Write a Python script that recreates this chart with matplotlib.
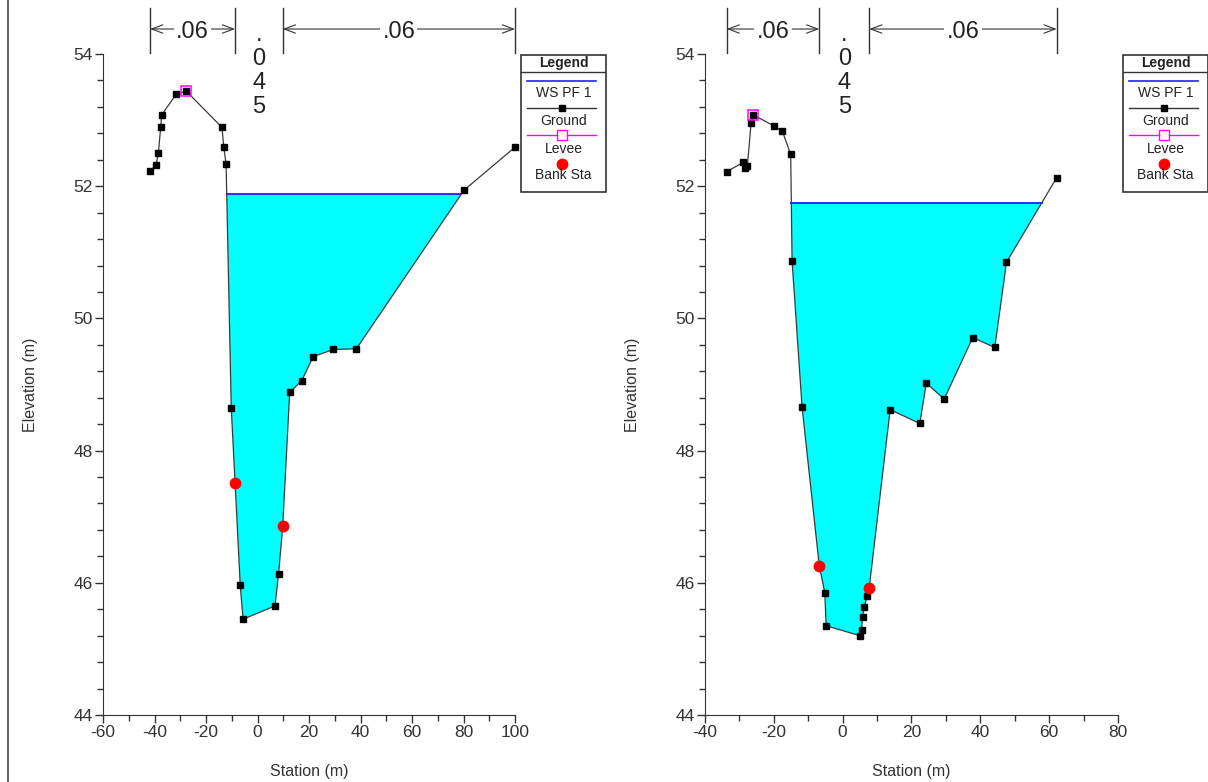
import matplotlib
matplotlib.use("Agg")
import matplotlib.pyplot as plt
from matplotlib.ticker import MultipleLocator
from matplotlib.transforms import blended_transform_factory
from matplotlib.patches import Rectangle
from matplotlib.lines import Line2D
import numpy as np

plt.rcParams['font.family'] = ['Liberation Sans', 'DejaVu Sans']
plt.rcParams['axes.unicode_minus'] = False

# left cross section
sta1 = [-41.7, -39.4, -38.5, -37.6, -37.2, -31.6, -27.7, -13.8, -13.1, -12.2, -10.2, -8.7,
        -6.7, -5.6, 6.8, 8.2, 9.8, 12.5, 17.2, 21.6, 29.4, 38.4, 80.2, 100.0]
elev1 = [52.23, 52.32, 52.50, 52.89, 53.08, 53.39, 53.44, 52.89, 52.59, 52.34, 48.65, 47.51,
         45.96, 45.45, 45.65, 46.14, 46.86, 48.88, 49.06, 49.42, 49.53, 49.54, 51.94, 52.59]
levee1 = (-27.7, 53.44)
banks1 = ([-8.7, 9.8], [47.51, 46.86])
ws1 = 51.88

# right cross section
sta2 = [-33.7, -28.9, -28.4, -27.7, -26.6, -26.0, -19.9, -17.5, -15.1, -14.7, -11.8, -6.8,
        -5.2, -4.8, 5.0, 5.5, 5.8, 6.3, 7.1, 7.7, 13.8, 22.4, 24.3, 29.5, 37.8, 44.2, 47.6, 62.2]
elev2 = [52.22, 52.36, 52.27, 52.30, 52.96, 53.08, 52.91, 52.83, 52.48, 50.87, 48.66, 46.26,
         45.85, 45.35, 45.20, 45.29, 45.49, 45.63, 45.80, 45.92, 48.62, 48.41, 49.02, 48.78,
         49.71, 49.56, 50.85, 52.13]
levee2 = (-26.0, 53.08)
banks2 = ([-6.8, 7.7], [46.26, 45.92])
ws2 = 51.75

n_lob, n_ch, n_rob = ".06", ".045", ".06"

W, H = 1208, 782
fig = plt.figure(figsize=(W / 100, H / 100), dpi=100)

# thin frame line at far left
fig.add_artist(Line2D([8 / W, 8 / W], [0, 1], color='#444444', lw=1.2, transform=fig.transFigure))


def water_edges(x, z, ws):
    x = np.asarray(x); z = np.asarray(z)
    wet = np.where(z < ws)[0]
    i0, i1 = wet[0], wet[-1]
    xl = x[i0 - 1] + (ws - z[i0 - 1]) * (x[i0] - x[i0 - 1]) / (z[i0] - z[i0 - 1])
    xr = x[i1] + (ws - z[i1]) * (x[i1 + 1] - x[i1]) / (z[i1 + 1] - z[i1])
    return i0, i1, xl, xr


def draw_section(ax, sta, elev, levee, banks, ws, xlim, xmajor):
    i0, i1, xl, xr = water_edges(sta, elev, ws)
    px = [xl] + list(sta[i0:i1 + 1]) + [xr]
    pz = [ws] + list(elev[i0:i1 + 1]) + [ws]
    ax.fill(px, pz, color='#00FFFF', lw=0, zorder=1)
    ax.plot([xl, xr], [ws, ws], color='#2020FF', lw=1.3, zorder=2)
    ax.plot(sta, elev, color='#3a3a3a', lw=0.9, marker='s', ms=4.3, mfc='black',
            mec='black', zorder=3, clip_on=False)
    ax.plot(*levee, marker='s', ms=7.5, mfc='none', mec='#FF00FF', mew=1.1, zorder=4, clip_on=False)
    ax.plot(*banks, 'o', color='#FF0000', ms=7.5, zorder=5, clip_on=False)

    ax.set_xlim(*xlim)
    ax.set_ylim(44, 54)
    ax.xaxis.set_major_locator(MultipleLocator(xmajor))
    ax.xaxis.set_minor_locator(MultipleLocator(xmajor / 2))
    ax.yaxis.set_major_locator(MultipleLocator(2))
    ax.yaxis.set_minor_locator(MultipleLocator(0.4))
    for s in ['top', 'right']:
        ax.spines[s].set_visible(False)
    for s in ['left', 'bottom']:
        ax.spines[s].set_color('#333333')
    ax.tick_params(which='major', direction='out', length=6, width=1, color='#333333',
                   labelsize=12.5, labelcolor='#333333', pad=1.5)
    ax.tick_params(which='minor', direction='out', length=4, width=1, color='#333333')
    ax.set_xlabel('Station (m)', fontsize=11.5, color='#333333', labelpad=17)
    ax.set_ylabel('Elevation (m)', fontsize=11.5, color='#333333', labelpad=25)

    # Manning's n dimension lines above the plot
    tr = blended_transform_factory(ax.transData, ax.transAxes)
    y_top, y_bot, y_arr = 1.0697, 1.0015, 1.0378
    y_txt = 1.0335
    lob = (sta[0], banks[0][0])
    rob = (banks[0][1], sta[-1])
    for xa, xb in [lob, rob]:
        for xv in (xa, xb):
            ax.plot([xv, xv], [y_bot, y_top], color='#333333', lw=1, transform=tr, clip_on=False)
        ax.annotate('', xy=(xb, y_arr), xytext=(xa, y_arr), xycoords=tr, textcoords=tr,
                    arrowprops=dict(arrowstyle='<->,head_length=0.8,head_width=0.3',
                                    lw=0.8, color='#333333', shrinkA=0, shrinkB=0))
    ax.text(np.mean(lob), y_txt, n_lob, transform=tr, ha='center', va='center', fontsize=17,
            color='#222222', bbox=dict(fc='white', ec='none', pad=1.5))
    ax.text(np.mean(rob), y_txt, n_rob, transform=tr, ha='center', va='center', fontsize=17,
            color='#222222', bbox=dict(fc='white', ec='none', pad=1.5))
    ax.text(np.mean(banks[0]), 1.046, '\n'.join(n_ch), transform=tr, ha='center', va='top',
            fontsize=17, color='#222222', linespacing=1.12, multialignment='center')


def draw_legend(x0):
    lg = fig.add_axes([x0 / W, 1 - 192 / H, 85 / W, 137.5 / H])
    lg.set_xlim(0, 1)
    lg.set_ylim(0, 1)
    lg.axis('off')
    lg.add_patch(Rectangle((0, 0), 1, 1, fc='white', ec='#333333', lw=1.2, clip_on=False))
    lg.plot([0, 1], [0.873, 0.873], color='#333333', lw=1)
    lg.text(0.5, 0.940, 'Legend', ha='center', va='center', fontsize=10, fontweight='bold', color='#222222')
    xs = [0.075, 0.885]
    lg.plot(xs, [0.806, 0.806], color='#2020FF', lw=1.2)
    lg.text(0.5, 0.722, 'WS PF 1', ha='center', va='center', fontsize=10, color='#222222')
    lg.plot(xs, [0.611, 0.611], color='#333333', lw=1)
    lg.plot(0.48, 0.611, 's', color='black', ms=4.3)
    lg.text(0.5, 0.516, 'Ground', ha='center', va='center', fontsize=10, color='#222222')
    lg.plot(xs, [0.418, 0.418], color='#FF00FF', lw=1)
    lg.plot(0.48, 0.418, 's', mfc='white', mec='#FF00FF', ms=7, mew=1)
    lg.text(0.5, 0.310, 'Levee', ha='center', va='center', fontsize=10, color='#222222')
    lg.plot(0.48, 0.207, 'o', color='#FF0000', ms=7.5)
    lg.text(0.5, 0.122, 'Bank Sta', ha='center', va='center', fontsize=10, color='#222222')


ax1 = fig.add_axes([103 / W, 1 - 715 / H, 412 / W, 661 / H])
draw_section(ax1, sta1, elev1, levee1, banks1, ws1, (-60, 100), 20)
ax2 = fig.add_axes([705 / W, 1 - 715 / H, 413 / W, 661 / H])
draw_section(ax2, sta2, elev2, levee2, banks2, ws2, (-40, 80), 20)

draw_legend(521)
draw_legend(1123)

fig.savefig('out.png', dpi=100)
